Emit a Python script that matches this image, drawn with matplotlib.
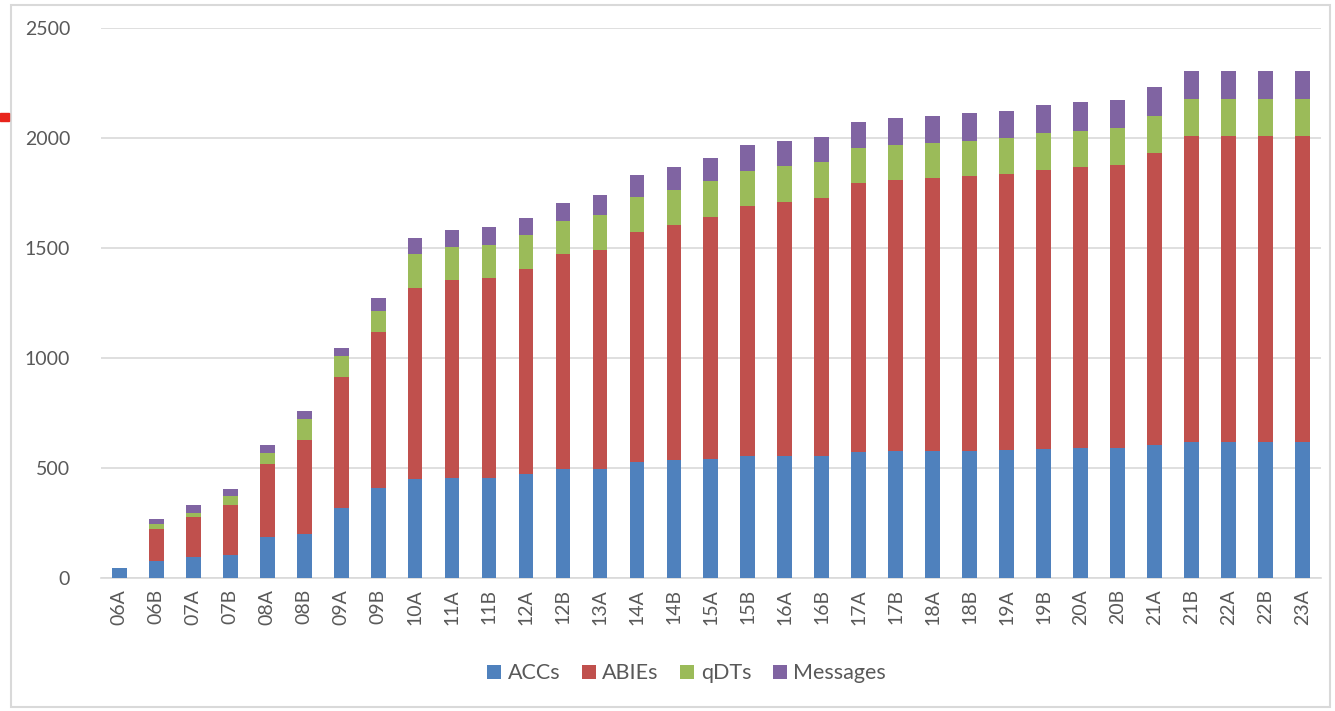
import matplotlib
matplotlib.use("Agg")
import matplotlib.pyplot as plt
import numpy as np
from matplotlib.patches import Rectangle

plt.rcParams['font.family'] = ['Lato', 'DejaVu Sans']

releases = ['06A', '06B', '07A', '07B', '08A', '08B', '09A', '09B', '10A',
            '11A', '11B', '12A', '12B', '13A', '14A', '14B', '15A', '15B',
            '16A', '16B', '17A', '17B', '18A', '18B', '19A', '19B', '20A',
            '20B', '21A', '21B', '22A', '22B', '23A']

accs = [45, 78, 95, 106, 187, 198, 319, 409, 450,
        454, 454, 473, 496, 496, 526, 538, 543, 555,
        555, 554, 574, 579, 579, 579, 582, 586, 590,
        592, 603, 619, 619, 619, 619]
abies = [0, 147, 182, 227, 331, 427, 594, 707, 868,
         898, 908, 932, 974, 993, 1048, 1065, 1099, 1137,
         1155, 1172, 1219, 1227, 1238, 1249, 1253, 1269, 1278,
         1285, 1329, 1391, 1391, 1391, 1391]
qdts = [0, 21, 19, 38, 49, 96, 95, 97, 153,
        153, 153, 153, 154, 159, 159, 162, 162, 159,
        162, 163, 161, 162, 161, 159, 162, 166, 165,
        166, 168, 167, 167, 167, 167]
messages = [0, 22, 37, 34, 36, 36, 38, 57, 73,
            77, 79, 78, 80, 91, 98, 101, 104, 117,
            114, 114, 119, 124, 122, 126, 125, 129, 131,
            127, 129, 128, 128, 128, 128]

series = [('ACCs', accs, '#4F81BD'),
          ('ABIEs', abies, '#C0504D'),
          ('qDTs', qdts, '#9BBB59'),
          ('Messages', messages, '#8064A2')]

fig = plt.figure(figsize=(13.35, 7.11), dpi=100)
ax = fig.add_axes([0.0755, 0.187, 0.914, 0.774])

x = np.arange(len(releases))
bottom = np.zeros(len(releases))
for name, vals, col in series:
    ax.bar(x, vals, 0.4, bottom=bottom, color=col, label=name, zorder=3)
    bottom += np.array(vals)

ax.set_xlim(-0.5, len(releases) - 0.5)
ax.set_ylim(0, 2500)
ax.set_yticks(range(0, 2501, 500))
ax.yaxis.grid(True, color='#D9D9D9', linewidth=1.2, zorder=0)
for s in ['top', 'right', 'left']:
    ax.spines[s].set_visible(False)
ax.spines['bottom'].set_color('#D9D9D9')
ax.spines['bottom'].set_linewidth(1.2)
ax.tick_params(axis='both', length=0, labelsize=14, colors='#595959')
ax.tick_params(axis='y', pad=22)
ax.tick_params(axis='x', pad=8)
ax.set_xticks(x)
ax.set_xticklabels(releases, rotation=90)

ax.legend(loc='center', bbox_to_anchor=(0.48, -0.173), ncol=4, frameon=False,
          fontsize=15.5, handlelength=0.65, handleheight=0.65, handletextpad=0.3,
          columnspacing=1.0, labelcolor='#595959')

# outer frame and small red mark at the left edge
fig.patches.append(Rectangle((0.008, 0.006), 0.988, 0.987, transform=fig.transFigure,
                             fill=False, edgecolor='#D9D9D9', linewidth=1.5))
fig.patches.append(Rectangle((0.0, 0.830), 0.007, 0.011, transform=fig.transFigure,
                             color='#E8241B'))

fig.savefig('out.png', dpi=100)
